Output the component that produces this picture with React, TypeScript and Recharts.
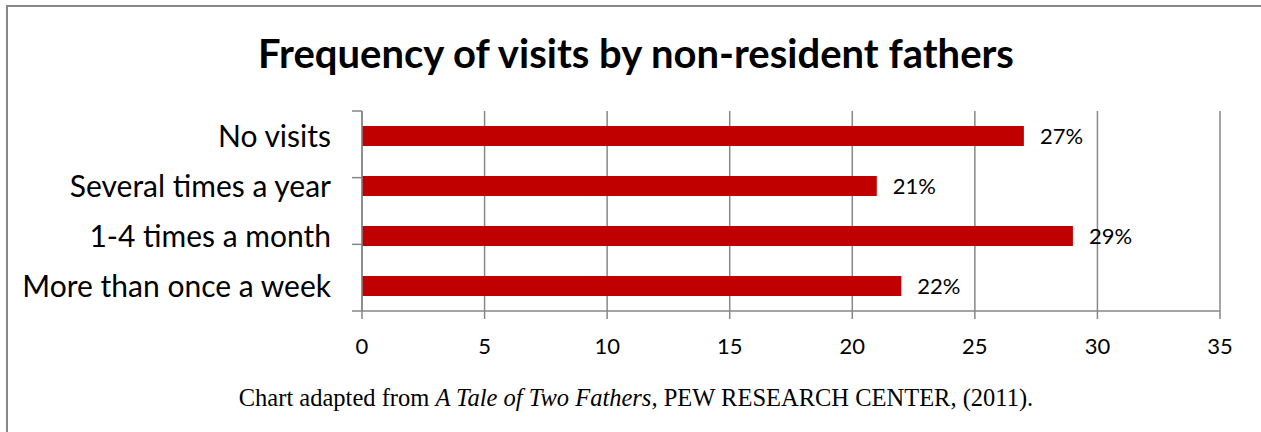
import { BarChart, Bar, XAxis, YAxis, CartesianGrid, LabelList } from 'recharts';

const categories = ['No visits', 'Several times a year', '1-4 times a month', 'More than once a week'];
const shares = [27, 21, 29, 22];
const xTicks = [0, 5, 10, 15, 20, 25, 30, 35];
const frameTicks = [0, 1, 2, 3, 4];

const data = categories.map((name, i) => ({ name, value: shares[i] }));

const GRAY = '#878787';
const SANS = 'Lato, "Open Sans", sans-serif';

const App = () => {
  return (
    <div style={{ position: 'absolute', left: 0, top: 0, width: 1261, height: 432, overflow: 'hidden', background: '#fff' }}>
      {/* outer frame of the pasted chart, cut off on the right and bottom */}
      <div style={{ position: 'absolute', left: 6, top: 5, width: 1400, height: 600, border: `2px solid ${GRAY}` }} />
      <svg width={1261} height={432} style={{ position: 'absolute', left: 0, top: 0 }}>
        <text x={636} y={68} textAnchor="middle" fontFamily={SANS} fontWeight={700} fontSize={40} fill="#000">
          Frequency of visits by non-resident fathers
        </text>
        <text x={636} y={406} textAnchor="middle" fontFamily='"Liberation Serif", "Times New Roman", serif' fontSize={24.5} fill="#000">
          Chart adapted from <tspan fontStyle="italic">A Tale of Two Fathers,</tspan> PEW RESEARCH CENTER, (2011).
        </text>
      </svg>
      <div style={{ position: 'absolute', left: 0, top: 0 }}>
        <BarChart
          width={1261}
          height={370}
          data={data}
          layout="vertical"
          margin={{ top: 111, right: 41, bottom: 0, left: 0 }}
          barCategoryGap={0}
        >
          <CartesianGrid yAxisId="labels" horizontal={false} stroke={GRAY} strokeWidth={1.5} />
          <XAxis
            type="number"
            domain={[0, 35]}
            ticks={xTicks}
            height={59}
            tickSize={8}
            tickMargin={19}
            stroke={GRAY}
            strokeWidth={1.5}
            tick={{ fill: '#000', fontSize: 22, fontFamily: SANS }}
          />
          {/* axis line with tick marks at the category boundaries */}
          <YAxis
            yAxisId="axis"
            type="number"
            domain={[0, 4]}
            ticks={frameTicks}
            width={10}
            tickSize={10}
            tickMargin={0}
            stroke={GRAY}
            strokeWidth={1.5}
            tickFormatter={() => ''}
          />
          <YAxis
            yAxisId="labels"
            type="category"
            dataKey="name"
            width={352}
            tickLine={false}
            axisLine={false}
            tickSize={0}
            tickMargin={21}
            tick={{ fill: '#000', fontSize: 30, fontFamily: SANS }}
          />
          <Bar yAxisId="labels" dataKey="value" fill="#C00000" barSize={20} isAnimationActive={false}>
            <LabelList
              dataKey="value"
              position="right"
              offset={16}
              formatter={(v: number) => `${v}%`}
              fill="#000"
              fontSize={22}
              fontFamily={SANS}
            />
          </Bar>
        </BarChart>
      </div>
    </div>
  );
};

export default App;
